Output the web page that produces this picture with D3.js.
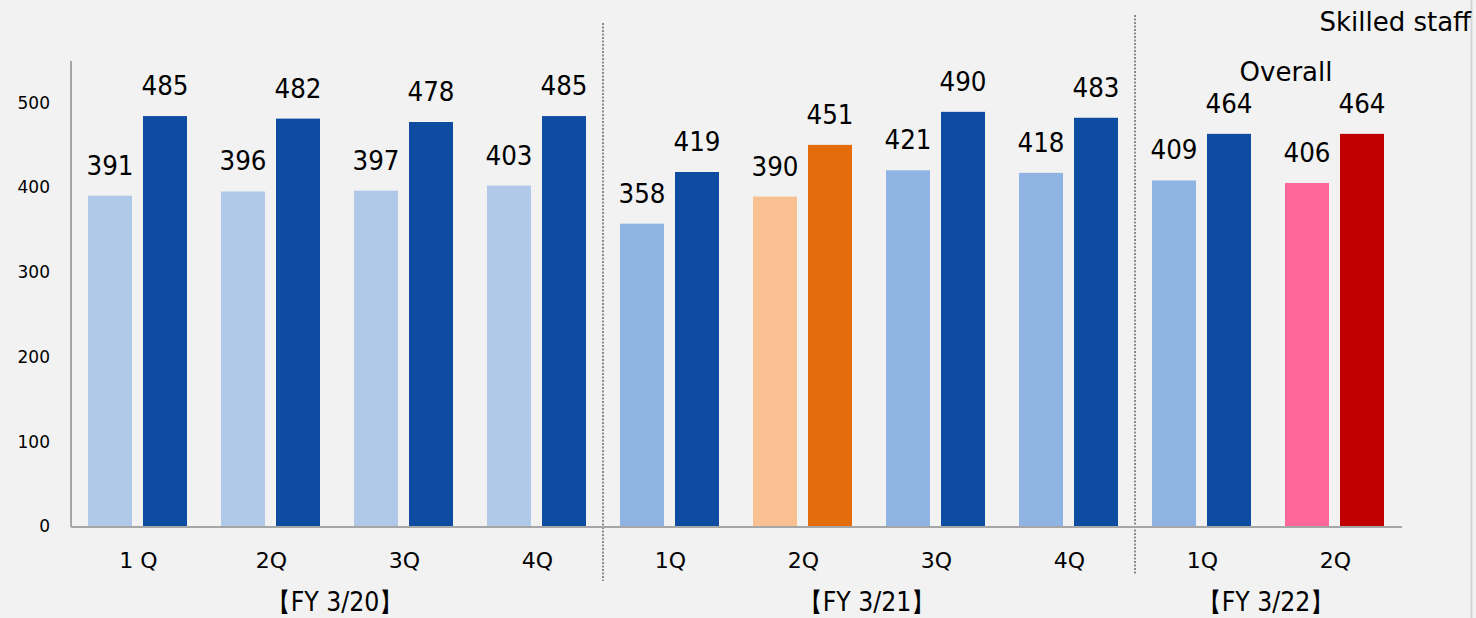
<!DOCTYPE html>
<html><head><meta charset="utf-8">
<script src="https://cdn.jsdelivr.net/npm/d3@7"></script>
<style>
html,body{margin:0;padding:0;background:#f2f2f2;}
svg{display:block;font-family:"DejaVu Sans",Verdana,sans-serif;}
</style></head>
<body><svg id="c" width="1476" height="618"></svg>
<script>
const quarters = ["1 Q","2Q","3Q","4Q","1Q","2Q","3Q","4Q","1Q","2Q"];
const fiscalYears = ["【FY 3/20】","【FY 3/21】","【FY 3/22】"];
const fyGroupCounts = [4,4,2];
const skilledValues = [391,396,397,403,358,390,421,418,409,406];
const overallValues = [485,482,478,485,419,451,490,483,464,464];
const skilledColors = ["#b0c9e8","#b0c9e8","#b0c9e8","#b0c9e8","#8fb4e3","#f9c192","#8fb4e3","#8fb4e3","#8fb4e3","#ff6699"];
const overallColors = ["#0d4ca1","#0d4ca1","#0d4ca1","#0d4ca1","#0d4ca1","#e46c0a","#0d4ca1","#0d4ca1","#0d4ca1","#c00000"];
const yTicks = [0,100,200,300,400,500];

(function(){
const svg = d3.select("#c");
const pl = 71, pr = 1401, pt = 61, pb = 527;
const idx = d3.range(quarters.length);
const x = d3.scaleBand().domain(idx).range([pl, pr]).paddingInner(0).paddingOuter(0);
const y = d3.scaleLinear().domain([0,550]).range([pb, pt]);
const barW = 44, gap = 11;

// right border
svg.append("line").attr("x1",1471.5).attr("x2",1471.5).attr("y1",0).attr("y2",618)
  .attr("stroke","#d4d4d4").attr("stroke-width",2);

// y axis
const yAxis = d3.axisLeft(y).tickValues(yTicks).tickSize(0).tickPadding(21).tickFormat(d3.format("d"));
const ga = svg.append("g").attr("transform",`translate(${pl},0)`).call(yAxis);
ga.select(".domain").remove();
ga.selectAll("text").attr("font-size",17).attr("fill","#000").attr("dy","0.28em")
  .attr("font-family","DejaVu Sans");
svg.append("line").attr("x1",pl).attr("x2",pl).attr("y1",pt).attr("y2",pb)
  .attr("stroke","#a6a6a6").attr("stroke-width",2);

// dividers
let acc = 0;
const divPos = [];
fyGroupCounts.forEach((n,i)=>{ acc += n; if (i < fyGroupCounts.length-1) divPos.push(acc); });
const divTops = [23,15], divBottoms = [581,574];
divPos.forEach((p,i)=>{
  const xx = x(p);
  svg.append("line").attr("x1",xx).attr("x2",xx).attr("y1",divTops[i]).attr("y2",divBottoms[i])
    .attr("stroke","#8c8c8c").attr("stroke-width",2).attr("stroke-dasharray","2,1.5");
});

// bars
const inner = (x.bandwidth() - 2*barW - gap)/2;
const g = svg.append("g");
g.selectAll("rect.s").data(idx).join("rect").attr("class","s")
  .attr("x",d=>x(d)+inner).attr("width",barW)
  .attr("y",d=>y(skilledValues[d])).attr("height",d=>pb - y(skilledValues[d]))
  .attr("fill",d=>skilledColors[d]);
g.selectAll("rect.o").data(idx).join("rect").attr("class","o")
  .attr("x",d=>x(d)+inner+barW+gap).attr("width",barW)
  .attr("y",d=>y(overallValues[d])).attr("height",d=>pb - y(overallValues[d]))
  .attr("fill",d=>overallColors[d]);

// x axis line
svg.append("line").attr("x1",pl).attr("x2",pr+1).attr("y1",pb).attr("y2",pb)
  .attr("stroke","#a6a6a6").attr("stroke-width",2);

// value labels
g.selectAll("text.s").data(idx).join("text").attr("class","s")
  .attr("x",d=>x(d)+inner+barW/2).attr("y",d=>y(skilledValues[d])-21)
  .attr("text-anchor","middle").attr("font-size",26).attr("fill","#000")
  .attr("textLength",47).attr("lengthAdjust","spacingAndGlyphs")
  .text(d=>skilledValues[d]);
g.selectAll("text.o").data(idx).join("text").attr("class","o")
  .attr("x",d=>x(d)+inner+barW+gap+barW/2).attr("y",d=>y(overallValues[d])-21)
  .attr("text-anchor","middle").attr("font-size",26).attr("fill","#000")
  .attr("textLength",47).attr("lengthAdjust","spacingAndGlyphs")
  .text(d=>overallValues[d]);

// quarter labels
svg.selectAll("text.q").data(idx).join("text").attr("class","q")
  .attr("x",d=>x(d)+x.bandwidth()/2+1).attr("y",568)
  .attr("text-anchor","middle").attr("font-size",22).attr("fill","#000")
  .text(d=>quarters[d]);

// fiscal year labels
let start = 0;
fiscalYears.forEach((t,i)=>{
  const a = x(start), b = x(start + fyGroupCounts[i] - 1) + x.bandwidth();
  svg.append("text").attr("x",(a+b)/2 - 2).attr("y",611).attr("text-anchor","middle")
    .attr("font-size",26).attr("fill","#000")
    .attr("textLength",136).attr("lengthAdjust","spacingAndGlyphs").text(t);
  start += fyGroupCounts[i];
});

// annotations
svg.append("text").attr("x",1286).attr("y",81).attr("text-anchor","middle")
  .attr("font-size",26).attr("fill","#000").text("Overall");
svg.append("text").attr("x",1471).attr("y",31).attr("text-anchor","end")
  .attr("font-size",26).attr("fill","#000").text("Skilled staff");
})();
</script></body></html>
